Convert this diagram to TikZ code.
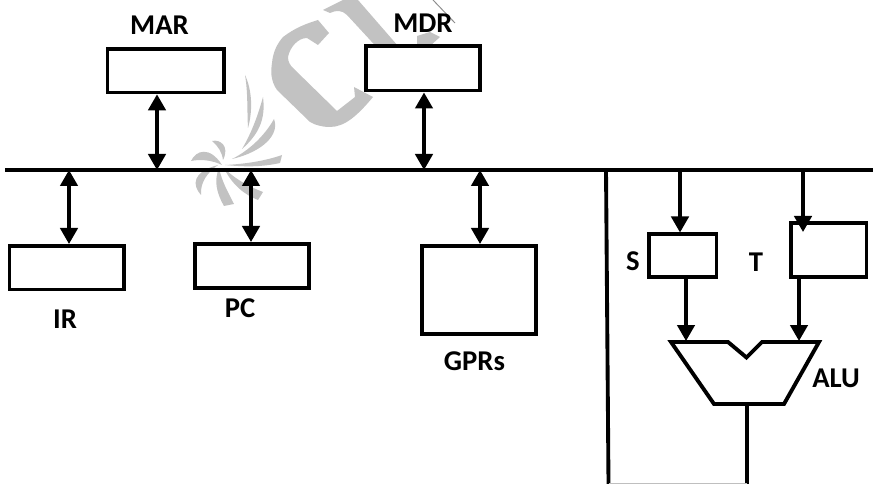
\documentclass[tikz,border=0pt]{standalone}
\usepackage{fontspec}
\setmainfont{Carlito}
\usetikzlibrary{arrows.meta}
\tikzset{
  px/.style={x=0.75pt,y=-0.75pt},
  reg/.style={draw=black,line width=2.8pt,fill=white,inner sep=0pt,anchor=north west},
  lab/.style={font=\bfseries\fontsize{21.5}{25}\selectfont,inner sep=0pt,text=black},
  wire/.style={draw=black,line width=2.9pt},
  thin wire/.style={draw=black,line width=2.6pt},
  both/.style={thin wire,{Triangle[length=12pt,width=13pt]}-{Triangle[length=12pt,width=13pt]}},
  down/.style={thin wire,-{Triangle[length=12pt,width=13pt]}},
  wm/.style={fill=black!24,draw=none}
}
\begin{document}
\begin{tikzpicture}[px]
\useasboundingbox (0,0) rectangle (873,484);
% watermark
\fill[wm] (318,20) -- (329,33) -- (318,45) -- (307,38) .. controls (298,38) and (290,47) .. (288,57) .. controls (288,62) and (290,65) .. (293,68) -- (337,111) -- (355,97) -- (354,87) -- (373,97) .. controls (358,115) and (345,127) .. (330,127) .. controls (322,127) and (315,125) .. (310,122) -- (277,90) .. controls (270,80) and (271,70) .. (272,63) .. controls (273,52) and (277,44) .. (283,37) .. controls (295,28) and (305,24) .. (318,20) -- cycle;
\fill[wm] (323,10) -- (343,0) -- (358,0) -- (398,46) -- (383,54) -- (347,15) .. controls (342,10) and (336,10) .. (330,13) -- cycle;
\fill[wm] (417,36) -- (430,32) -- (440,37) -- (430,46) -- (417,46) -- cycle;
\draw[black!45,line width=0.7pt] (433,0) -- (455,23);
\fill[wm] (245,75) .. controls (252,90) and (253,110) .. (248,128) .. controls (247,110) and (248,92) .. (245,75) -- cycle;
\fill[wm] (263,97) .. controls (266,120) and (258,135) .. (242,149) .. controls (252,132) and (258,115) .. (263,97) -- cycle;
\fill[wm] (274,119) .. controls (280,135) and (262,152) .. (232,159) .. controls (250,150) and (265,135) .. (274,119) -- cycle;
\fill[wm] (282,155) .. controls (281,160) and (280,162) .. (280,163) .. controls (262,167) and (245,167) .. (225,165) .. controls (245,164) and (265,161) .. (282,155) -- cycle;
\fill[wm] (212,141) .. controls (220,139) and (230,146) .. (223,160) .. controls (222,152) and (218,146) .. (212,141) -- cycle;
\fill[wm] (191,161) .. controls (196,150) and (210,146) .. (222,165) .. controls (212,160) and (200,159) .. (191,161) -- cycle;
\fill[wm] (201,195) .. controls (192,185) and (192,172) .. (218,165) .. controls (208,172) and (200,182) .. (201,195) -- cycle;
\fill[wm] (224,206) .. controls (216,192) and (214,180) .. (219,168) .. controls (222,182) and (228,192) .. (234,204) -- cycle;
\fill[wm] (258,200) .. controls (245,195) and (232,185) .. (224,168) .. controls (236,180) and (250,187) .. (263,192) -- cycle;
% bus
\coordinate (busL) at (5,170);
\coordinate (busR) at (873,170);
\draw[wire] (busL) -- (busR);
\node[reg,minimum width=87.2pt,minimum height=32.7pt] (mar) at (105.5,47) {};
\node[reg,minimum width=85.7pt,minimum height=33.2pt] (mdr) at (364,44.5) {};
\node[reg,minimum width=86.2pt,minimum height=32.7pt] (ir) at (7.5,244) {};
\node[reg,minimum width=85.7pt,minimum height=33.2pt] (pc) at (193,242) {};
\node[reg,minimum width=85.7pt,minimum height=66.2pt] (gpr) at (420,244) {};
\node[reg,minimum width=50.7pt,minimum height=32.2pt] (s) at (647,232.5) {};
\node[reg,minimum width=56.7pt,minimum height=40.7pt] (t) at (789,221) {};
% ALU
\draw[wire,line join=miter,fill=white] (671,342) -- (728,342) -- (746.5,357.5) -- (762,342) -- (819,342) -- (784,404) -- (714,404) -- cycle;
\coordinate (aluS) at (686,341);
\coordinate (aluT) at (799,341);
\coordinate (aluO) at (747,404);
\coordinate (botO) at (747,484);
\coordinate (busA) at (606,170);
\coordinate (botA) at (608.5,484);
\draw[wire] (busA) -- (botA);
\draw[thin wire] (aluO) -- (botO);
\draw[black!25,line width=0.8pt] (botA) -- (botO);
% connectors
\draw[both] (mar.south -| 157,0) -- (157,170);
\draw[both] (mdr.south -| 424,0) -- (424,170);
\draw[both] (69,170) -- (ir.north -| 69,0);
\draw[both] (251,170) -- (pc.north -| 251,0);
\draw[both] (480,170) -- (gpr.north -| 480,0);
\draw[down] (680,170) -- (s.north -| 680,0);
\draw[down] (803,170) -- (803,232);
\draw[down] (s.south -| 686,0) -- (aluS);
\draw[down] (t.south -| 799,0) -- (aluT);
% labels
\node[lab] at (159.5,25) {MAR};
\node[lab] at (423,23) {MDR};
\node[lab] at (65,319) {IR};
\node[lab] at (240,308) {PC};
\node[lab] at (474.5,361) {GPRs};
\node[lab] at (633,261) {S};
\node[lab] at (756,262) {T};
\node[lab] at (836,378) {ALU};
\end{tikzpicture}
\end{document}
